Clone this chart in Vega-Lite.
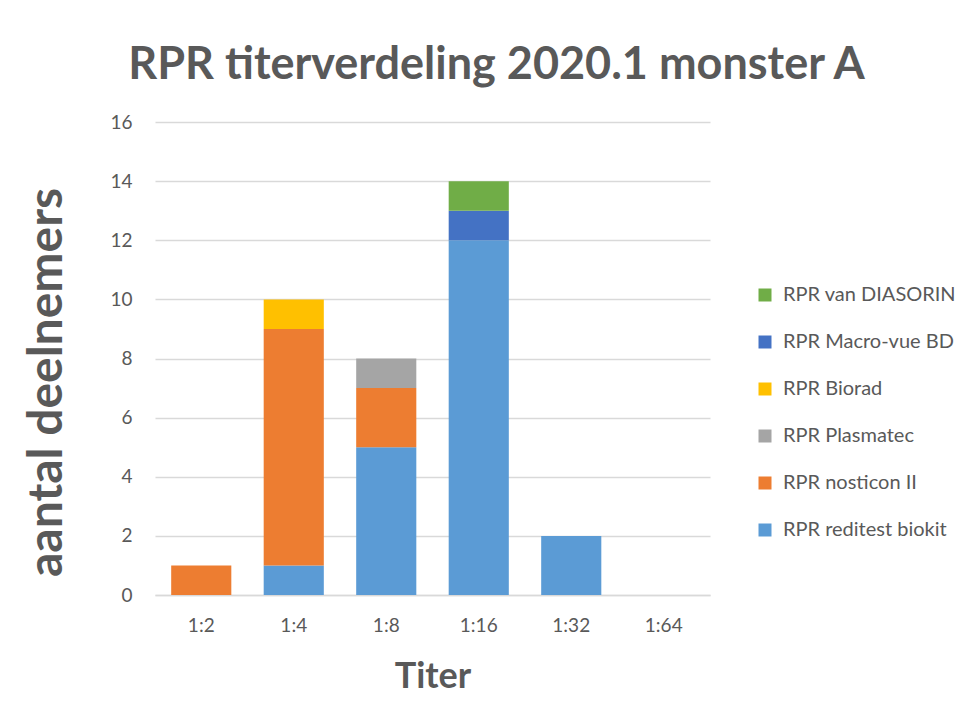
{
  "$schema": "https://vega.github.io/schema/vega-lite/v6.json",
  "autosize": "none",
  "padding": {"left": 155, "top": 122, "right": 267, "bottom": 129},
  "width": 555,
  "height": 473,
  "background": "white",
  "config": {
    "font": "Lato",
    "view": {"stroke": null},
    "axis": {"labelColor": "#595959", "titleColor": "#595959", "labelFont": "Lato", "titleFont": "Lato"}
  },
  "title": {
    "text": "RPR titerverdeling 2020.1 monster A",
    "fontSize": 45,
    "fontWeight": "bold",
    "color": "#595959",
    "font": "Lato",
    "anchor": "middle",
    "dx": 64,
    "offset": 25
  },
  "data": {
    "values": [
      {"titer": "1:2", "kit": "RPR nosticon II", "n": 1},
      {"titer": "1:4", "kit": "RPR reditest biokit", "n": 1},
      {"titer": "1:4", "kit": "RPR nosticon II", "n": 8},
      {"titer": "1:4", "kit": "RPR Biorad", "n": 1},
      {"titer": "1:8", "kit": "RPR reditest biokit", "n": 5},
      {"titer": "1:8", "kit": "RPR nosticon II", "n": 2},
      {"titer": "1:8", "kit": "RPR Plasmatec", "n": 1},
      {"titer": "1:16", "kit": "RPR reditest biokit", "n": 12},
      {"titer": "1:16", "kit": "RPR Macro-vue BD", "n": 1},
      {"titer": "1:16", "kit": "RPR van DIASORIN", "n": 1},
      {"titer": "1:32", "kit": "RPR reditest biokit", "n": 2},
      {"titer": "1:64", "kit": "RPR reditest biokit", "n": 0}
    ]
  },
  "transform": [
    {"calculate": "indexof(['RPR reditest biokit','RPR nosticon II','RPR Plasmatec','RPR Biorad','RPR Macro-vue BD','RPR van DIASORIN'], datum.kit)", "as": "ord"}
  ],
  "mark": {"type": "bar"},
  "encoding": {
    "x": {
      "field": "titer",
      "type": "nominal",
      "sort": ["1:2", "1:4", "1:8", "1:16", "1:32", "1:64"],
      "scale": {"paddingInner": 0.35, "paddingOuter": 0.175},
      "axis": {
        "title": "Titer",
        "titleFontSize": 36,
        "titleFontWeight": "bold",
        "titlePadding": 24,
        "labelAngle": 0,
        "labelFontSize": 19,
        "labelPadding": 21,
        "ticks": false,
        "domainColor": "#D9D9D9",
        "domainWidth": 1.5
      }
    },
    "y": {
      "field": "n",
      "type": "quantitative",
      "stack": "zero",
      "scale": {"domain": [0, 16]},
      "axis": {
        "title": "aantal deelnemers",
        "titleFontSize": 48,
        "titleFontWeight": "bold",
        "titleX": -108,
        "titleY": 260,
        "titleAngle": -90,
        "titleAlign": "center",
        "titleBaseline": "middle",
        "titleLimit": 600,
        "values": [0, 2, 4, 6, 8, 10, 12, 14, 16],
        "labelFontSize": 19,
        "labelPadding": 23,
        "ticks": false,
        "domain": false,
        "gridColor": "#D9D9D9",
        "gridWidth": 1.5
      }
    },
    "color": {
      "field": "kit",
      "type": "nominal",
      "scale": {
        "domain": ["RPR van DIASORIN", "RPR Macro-vue BD", "RPR Biorad", "RPR Plasmatec", "RPR nosticon II", "RPR reditest biokit"],
        "range": ["#70AD47", "#4472C4", "#FFC000", "#A5A5A5", "#ED7D31", "#5B9BD5"]
      },
      "legend": {
        "title": null,
        "orient": "none",
        "legendX": 600,
        "legendY": 163,
        "symbolType": "square",
        "symbolSize": 169,
        "symbolStrokeWidth": 0,
        "labelFontSize": 20,
        "labelLimit": 400,
        "labelColor": "#595959",
        "labelFont": "Lato",
        "rowPadding": 27,
        "labelOffset": 8
      }
    },
    "order": {"field": "ord", "type": "quantitative"}
  }
}
